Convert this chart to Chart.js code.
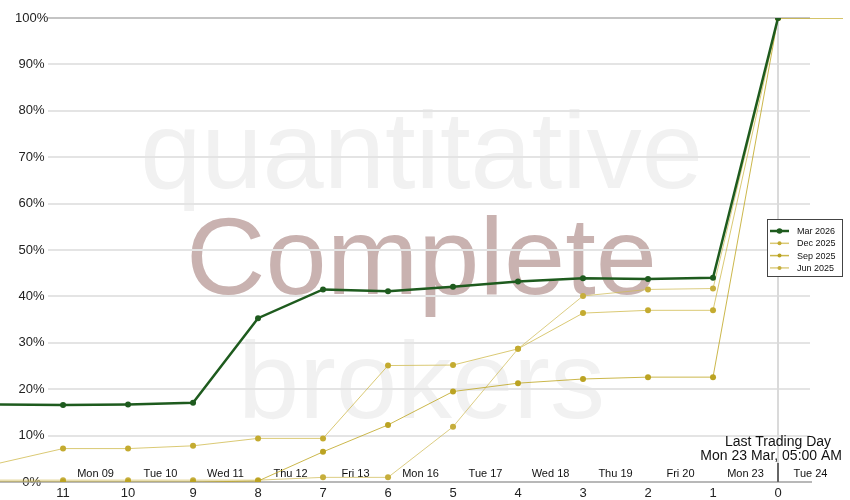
<!DOCTYPE html>
<html>
<head>
<meta charset="utf-8">
<script src="https://cdn.jsdelivr.net/npm/chart.js@4"></script>
<style>
  html, body { margin: 0; padding: 0; background: #fff; }
  canvas { display: block; }
</style>
</head>
<body>
<canvas id="rollChart" width="850" height="500"></canvas>
<script>
// trading days before expiry (x) and % of roll complete per contract
const offsets = [12, 11, 10, 9, 8, 7, 6, 5, 4, 3, 2, 1, 0, -1];
const mar2026 = [16.7, 16.6, 16.7, 17.1, 35.3, 41.5, 41.1, 42.1, 43.2, 43.9, 43.75, 44.0, 100, null];
const dec2025 = [4.0, 7.2, 7.2, 7.8, 9.4, 9.4, 25.1, 25.2, 28.7, 36.4, 37.0, 37.0, 100, 100];
const sep2025 = [0, 0, 0, 0, 0.2, 6.5, 12.3, 19.5, 21.3, 22.2, 22.6, 22.6, 100, 100];
const jun2025 = [0.4, 0.4, 0.4, 0.4, 0.4, 1.0, 1.0, 11.9, 28.7, 40.1, 41.5, 41.7, 100, 100];

const xTicks = [11, 10, 9, 8, 7, 6, 5, 4, 3, 2, 1, 0];
const dayLabels = ['Mon 09', 'Tue 10', 'Wed 11', 'Thu 12', 'Fri 13', 'Mon 16', 'Tue 17', 'Wed 18', 'Thu 19', 'Fri 20', 'Mon 23', 'Tue 24'];
const watermark = ['quantitative', 'Complete', 'brokers'];
const lastDay = ['Last Trading Day', 'Mon 23 Mar, 05:00 AM'];

const FONT = '"Liberation Sans", Arial, sans-serif';

function toPoints(values) {
  return offsets.map((x, i) => ({ x: x, y: values[i] }));
}

function edgeRadius(r) {
  return ctx => (ctx.raw && (ctx.raw.x > 11 || ctx.raw.x < 0)) ? 0 : r;
}

const backdrop = {
  id: 'backdrop',
  beforeDraw(chart) {
    const ctx = chart.ctx;
    const area = chart.chartArea;
    const cx = (area.left + area.right) / 2;
    ctx.save();
    ctx.textAlign = 'center';
    ctx.textBaseline = 'alphabetic';
    ctx.font = '110px ' + FONT;
    ctx.fillStyle = '#f1f1f1';
    ctx.fillText(watermark[0], cx, 188);
    ctx.fillText(watermark[2], cx, 418);
    ctx.fillStyle = '#c9b2b0';
    ctx.fillText(watermark[1], cx, 294);
    ctx.restore();
  },
  beforeDatasetsDraw(chart) {
    const ctx = chart.ctx;
    const y = chart.scales.y;
    const x = chart.scales.x;
    ctx.save();
    y.ticks.forEach(t => {
      const py = Math.round(y.getPixelForValue(t.value));
      ctx.beginPath();
      if (t.value === 0) {
        ctx.strokeStyle = '#a0a0a0';
        ctx.lineWidth = 1.5;
        ctx.moveTo(0, py);
        ctx.lineTo(812, py);
      } else if (t.value === 100) {
        ctx.strokeStyle = '#b0b0b0';
        ctx.lineWidth = 1.5;
        ctx.moveTo(48, py);
        ctx.lineTo(810, py);
      } else {
        ctx.strokeStyle = '#e4e4e4';
        ctx.lineWidth = 2;
        ctx.moveTo(48, py);
        ctx.lineTo(810, py);
      }
      ctx.stroke();
    });
    // last trading day marker
    const px0 = Math.round(x.getPixelForValue(0));
    ctx.beginPath();
    ctx.strokeStyle = '#dadada';
    ctx.lineWidth = 2;
    ctx.moveTo(px0, y.getPixelForValue(100));
    ctx.lineTo(px0, y.getPixelForValue(0));
    ctx.stroke();
    ctx.beginPath();
    ctx.strokeStyle = '#666';
    ctx.moveTo(px0, y.getPixelForValue(0) - 19);
    ctx.lineTo(px0, y.getPixelForValue(0));
    ctx.stroke();
    // day names between the day offsets
    ctx.fillStyle = '#111';
    ctx.font = '11px ' + FONT;
    ctx.textAlign = 'center';
    ctx.textBaseline = 'alphabetic';
    dayLabels.forEach((d, i) => {
      ctx.fillText(d, x.getPixelForValue(10.5 - i), 477);
    });
    ctx.font = '14px ' + FONT;
    ctx.fillText(lastDay[0], px0, 446);
    ctx.textAlign = 'right';
    ctx.fillText(lastDay[1], 842, 460);
    ctx.restore();
  },
  afterDraw(chart) {
    const ctx = chart.ctx;
    const sets = chart.data.datasets;
    const bx = 767, by = 219, bw = 75, bh = 57;
    ctx.save();
    ctx.fillStyle = '#fff';
    ctx.fillRect(bx, by, bw, bh);
    ctx.strokeStyle = '#444';
    ctx.lineWidth = 1;
    ctx.strokeRect(bx + 0.5, by + 0.5, bw, bh);
    ctx.font = '9px ' + FONT;
    ctx.textAlign = 'left';
    ctx.textBaseline = 'middle';
    sets.forEach((ds, i) => {
      const ly = by + 12 + i * 12.3;
      ctx.beginPath();
      ctx.strokeStyle = ds.borderColor;
      ctx.lineWidth = i === 0 ? 2.5 : 1.5;
      ctx.moveTo(770, ly);
      ctx.lineTo(789, ly);
      ctx.stroke();
      ctx.beginPath();
      ctx.fillStyle = ds.pointBackgroundColor;
      ctx.arc(779.5, ly, i === 0 ? 2.8 : 2, 0, Math.PI * 2);
      ctx.fill();
      ctx.fillStyle = '#111';
      ctx.fillText(ds.label, 797, ly + 0.5);
    });
    ctx.restore();
  }
};

new Chart(document.getElementById('rollChart'), {
  type: 'line',
  data: {
    datasets: [
      {
        label: 'Mar 2026',
        data: toPoints(mar2026),
        borderColor: '#1e5b1e',
        backgroundColor: '#1e5b1e',
        pointBackgroundColor: '#1e5b1e',
        pointBorderWidth: 0,
        pointRadius: edgeRadius(3),
        borderWidth: 2.5,
      },
      {
        label: 'Dec 2025',
        data: toPoints(dec2025),
        borderColor: 'rgba(205,183,70,0.75)',
        pointBackgroundColor: '#c4ab30',
        pointBorderWidth: 0,
        pointRadius: edgeRadius(3),
        borderWidth: 1,
      },
      {
        label: 'Sep 2025',
        data: toPoints(sep2025),
        borderColor: 'rgba(190,165,30,0.8)',
        pointBackgroundColor: '#bba322',
        pointBorderWidth: 0,
        pointRadius: edgeRadius(3),
        borderWidth: 1,
      },
      {
        label: 'Jun 2025',
        data: toPoints(jun2025),
        borderColor: 'rgba(208,188,90,0.75)',
        pointBackgroundColor: '#c6ae3c',
        pointBorderWidth: 0,
        pointRadius: edgeRadius(3),
        borderWidth: 1,
      }
    ]
  },
  options: {
    responsive: false,
    animation: false,
    layout: { padding: { top: 18, right: 7, bottom: 0, left: 0 } },
    plugins: {
      legend: { display: false },
      tooltip: { enabled: false }
    },
    scales: {
      x: {
        type: 'linear',
        reverse: true,
        min: -1,
        max: 11.97,
        grid: { display: false, drawTicks: false },
        border: { display: false },
        afterBuildTicks: scale => { scale.ticks = xTicks.map(v => ({ value: v })); },
        afterFit: scale => { scale.height = 18; scale.paddingLeft = 0; scale.paddingRight = 0; },
        ticks: {
          padding: 4,
          color: '#222',
          font: { family: FONT, size: 13 },
          maxRotation: 0,
          autoSkip: false,
          callback: v => String(v)
        }
      },
      y: {
        min: 0,
        max: 100,
        grid: { display: false, drawTicks: false },
        border: { display: false },
        afterFit: scale => { scale.width = 0; scale.paddingTop = 0; scale.paddingBottom = 0; },
        ticks: {
          stepSize: 10,
          mirror: true,
          crossAlign: 'center',
          padding: 15,
          color: '#222',
          font: { family: FONT, size: 13 },
          callback: v => v + '%'
        }
      }
    }
  },
  plugins: [backdrop]
});
</script>
</body>
</html>
